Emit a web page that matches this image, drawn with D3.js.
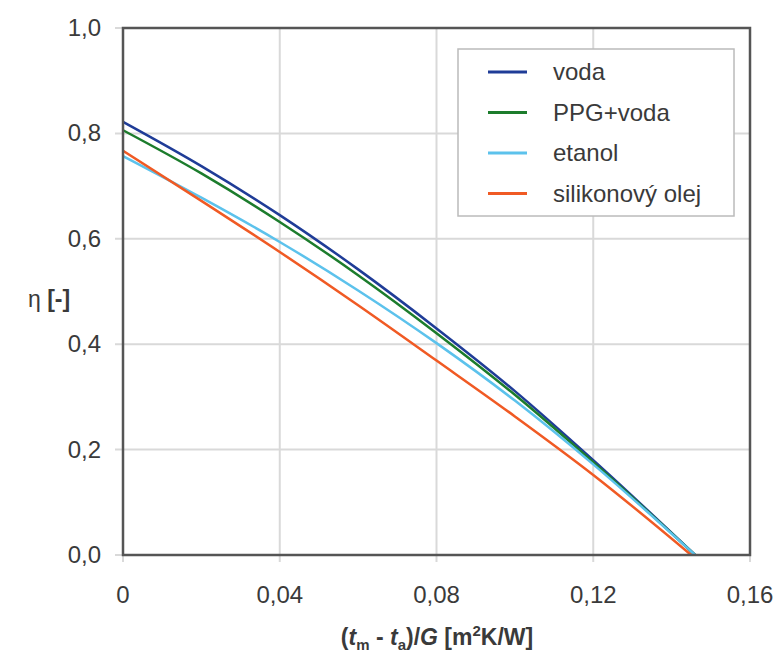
<!DOCTYPE html>
<html>
<head>
<meta charset="utf-8">
<script src="https://cdn.jsdelivr.net/npm/d3@7"></script>
<style>
  body { margin: 0; background: #fff; }
  text { font-family: "Liberation Sans", Arial, sans-serif; fill: #3a3a3a; }
</style>
</head>
<body>
<div id="chart"></div>
<script>
// x values (m2K/W)
const xVals = [0, 0.02, 0.04, 0.06, 0.08, 0.10, 0.12, 0.146];
const xValsSil = [0, 0.02, 0.04, 0.06, 0.08, 0.10, 0.12, 0.145];
const voda = [0.822, 0.738, 0.645, 0.542, 0.430, 0.311, 0.180, 0];
const ppgVoda = [0.806, 0.724, 0.632, 0.531, 0.421, 0.304, 0.176, 0];
const etanol = [0.757, 0.678, 0.594, 0.502, 0.402, 0.293, 0.172, 0];
const silikon = [0.767, 0.672, 0.575, 0.474, 0.369, 0.263, 0.152, 0];
const seriesNames = ['voda', 'PPG+voda', 'etanol', 'silikonový olej'];
const seriesColors = ['#1f3c97', '#1c7c2c', '#5cc2ec', '#f05a24'];
const xTicks = [0, 0.04, 0.08, 0.12, 0.16];
const yTicks = [0, 0.2, 0.4, 0.6, 0.8, 1.0];

const width = 778, height = 655;
const margin = {top: 28, right: 28, bottom: 100, left: 123};

const svg = d3.select('#chart').append('svg')
  .attr('width', width)
  .attr('height', height);

const x = d3.scaleLinear().domain([0, 0.16]).range([margin.left, width - margin.right]);
const y = d3.scaleLinear().domain([0, 1]).range([height - margin.bottom, margin.top]);

const fmt = d => d === 0 ? '0' : d3.format('.2f')(d).replace('.', ',');
const fmtY = d => d3.format('.1f')(d).replace('.', ',');

// gridlines
svg.append('g')
  .selectAll('line')
  .data(xTicks)
  .join('line')
  .attr('x1', d => x(d)).attr('x2', d => x(d))
  .attr('y1', y(1)).attr('y2', y(0) + 7)
  .attr('stroke', '#d9d9d9').attr('stroke-width', 2);

svg.append('g')
  .selectAll('line')
  .data(yTicks)
  .join('line')
  .attr('x1', x(0) - 8).attr('x2', x(0.16))
  .attr('y1', d => y(d)).attr('y2', d => y(d))
  .attr('stroke', '#d9d9d9').attr('stroke-width', 2);

// tick labels
svg.append('g')
  .selectAll('text')
  .data(xTicks)
  .join('text')
  .attr('x', d => x(d))
  .attr('y', y(0) + 48)
  .attr('text-anchor', 'middle')
  .style('font-size', '24px')
  .text(fmt);

svg.append('g')
  .selectAll('text')
  .data(yTicks)
  .join('text')
  .attr('x', x(0) - 22)
  .attr('y', d => y(d) + 8)
  .attr('text-anchor', 'end')
  .style('font-size', '24px')
  .text(fmtY);

// series lines
const allSeries = [voda, ppgVoda, etanol, silikon];
const xSets = [xVals, xVals, xVals, xValsSil];
const line = xs => d3.line()
  .x((d, i) => x(xs[i]))
  .y(d => y(d))
  .curve(d3.curveMonotoneX);

svg.append('g')
  .selectAll('path')
  .data(allSeries)
  .join('path')
  .attr('fill', 'none')
  .attr('stroke', (d, i) => seriesColors[i])
  .attr('stroke-width', 2.5)
  .attr('d', (d, i) => line(xSets[i])(d));

// plot frame
svg.append('rect')
  .attr('x', x(0)).attr('y', y(1))
  .attr('width', x(0.16) - x(0))
  .attr('height', y(0) - y(1))
  .attr('fill', 'none')
  .attr('stroke', '#555')
  .attr('stroke-width', 2.5);

// legend
const legend = svg.append('g').attr('transform', 'translate(458,49)');
legend.append('rect')
  .attr('width', 276).attr('height', 167)
  .attr('fill', '#fff')
  .attr('stroke', '#bbb').attr('stroke-width', 1.5);

const rows = legend.selectAll('g')
  .data(seriesNames)
  .join('g')
  .attr('transform', (d, i) => `translate(0,${23 + i * 40.5})`);
rows.append('line')
  .attr('x1', 30).attr('x2', 69)
  .attr('stroke', (d, i) => seriesColors[i])
  .attr('stroke-width', 3);
rows.append('text')
  .attr('x', 95).attr('y', 8)
  .style('font-size', '24px')
  .text(d => d);

// axis titles
const yt = svg.append('text')
  .attr('x', 28).attr('y', 307)
  .style('font-size', '23px');
yt.append('tspan').text('η ');
yt.append('tspan').style('font-weight', 'bold').text(' [-]');

const xt = svg.append('text')
  .attr('x', 437).attr('y', 645)
  .attr('text-anchor', 'middle')
  .style('font-size', '23px')
  .style('font-weight', 'bold');
xt.append('tspan').text('(');
xt.append('tspan').style('font-style', 'italic').text('t');
xt.append('tspan').attr('dy', 5).style('font-size', '15px').text('m');
xt.append('tspan').attr('dy', -5).text(' - ');
xt.append('tspan').style('font-style', 'italic').text('t');
xt.append('tspan').attr('dy', 5).style('font-size', '15px').text('a');
xt.append('tspan').attr('dy', -5).text(')/');
xt.append('tspan').style('font-style', 'italic').text('G');
xt.append('tspan').text('  [m');
xt.append('tspan').attr('dy', -9).style('font-size', '15px').text('2');
xt.append('tspan').attr('dy', 9).text('K/W]');
</script>
</body>
</html>
